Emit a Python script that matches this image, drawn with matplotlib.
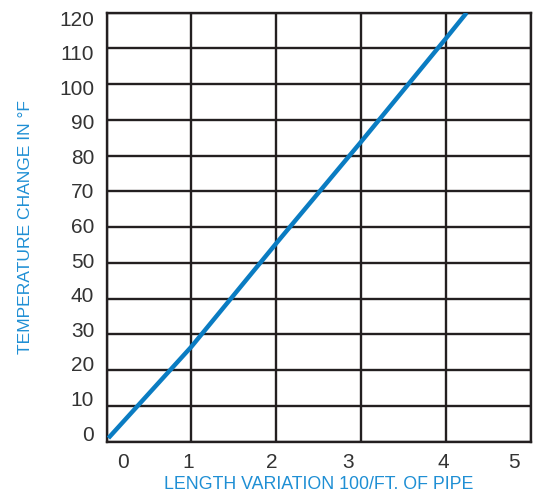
import matplotlib.pyplot as plt

# values
length_var = [0.02, 1, 2, 3, 4, 4.245]
temp_change = [1, 26.6, 55.5, 83.9, 112.8, 120]

x_labels = ['0', '1', '2', '3', '4', '5']
x_label_pos = [0.19, 0.96, 1.95, 2.85, 3.97, 4.80]
y_values = [0, 10, 20, 30, 40, 50, 60, 70, 80, 90, 100, 110, 120]

plt.rcParams['font.family'] = ['Liberation Sans', 'DejaVu Sans']

fig = plt.figure(figsize=(5.35, 4.94), dpi=100)
ax = fig.add_axes([0.1994, 0.1059, 0.7926, 0.8684])

ax.set_xlim(0, 5)
ax.set_ylim(0, 120)

# black grid
for gx in range(0, 6):
    ax.axvline(gx, color='#231f20', lw=1.7, zorder=1)
for gy in y_values:
    ax.axhline(gy, color='#231f20', lw=1.7, zorder=1)

ax.plot(length_var, temp_change, color='#0a7cc2', lw=3.2,
        solid_capstyle='butt', zorder=3)

for s in ax.spines.values():
    s.set_color('#231f20')
    s.set_linewidth(1.7)

# tick labels sit a bit off the grid lines in the original
ax.set_xticks(x_label_pos)
ax.set_xticklabels(x_labels)
ax.set_yticks([2.4 + v * 0.9675 for v in y_values])
ax.set_yticklabels([str(v) for v in y_values])
ax.tick_params(length=0, labelsize=15, labelcolor='#333333')
ax.tick_params(axis='x', pad=8)
ax.tick_params(axis='y', pad=9)

ax.set_xlabel('LENGTH VARIATION 100/FT. OF PIPE', color='#1f8fd4',
              fontsize=12.8, labelpad=3)
ax.set_ylabel('TEMPERATURE CHANGE IN °F', color='#1f8fd4',
              fontsize=12.6, labelpad=19)

fig.savefig('out.png', dpi=100)
